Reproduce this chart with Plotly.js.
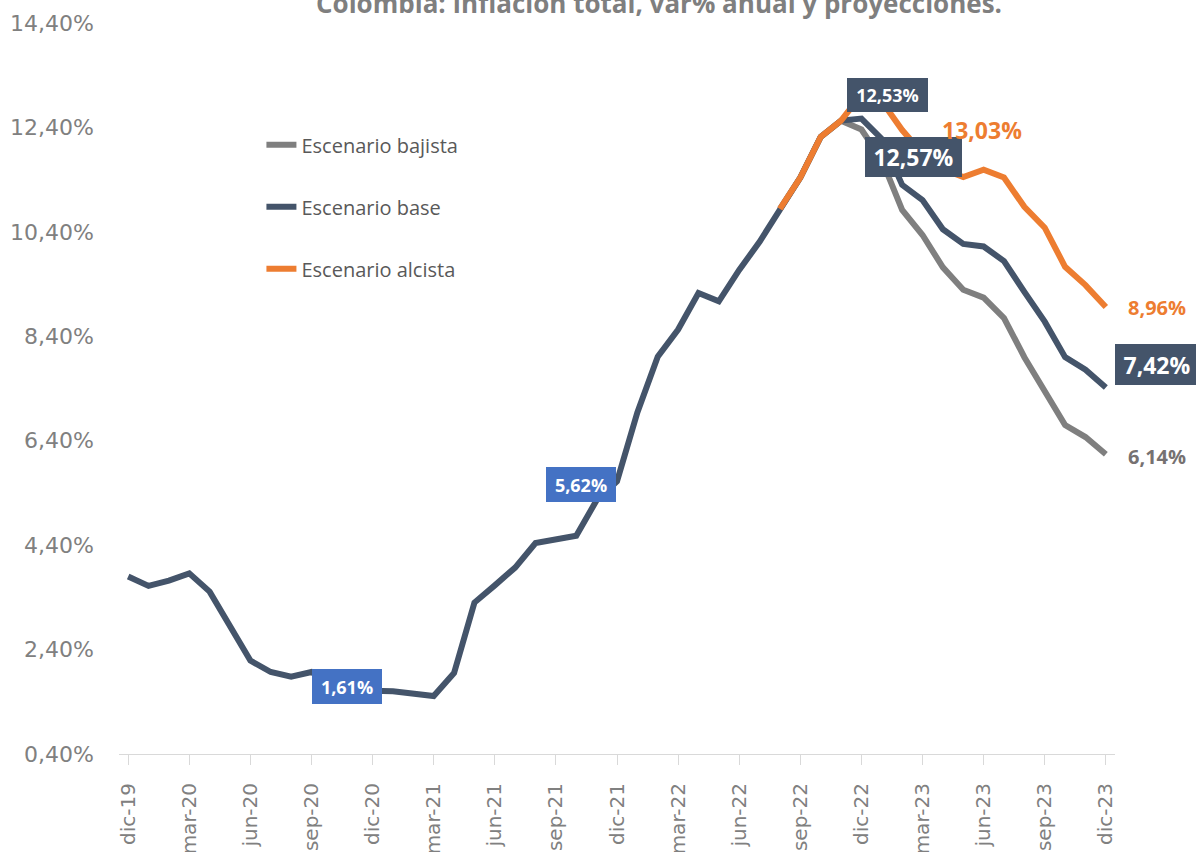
<!DOCTYPE html>
<html>
<head>
<meta charset="utf-8">
<script src="https://cdn.plot.ly/plotly-3.0.1.min.js"></script>
<style>
  html, body { margin: 0; padding: 0; background: #ffffff; }
  #chart { width: 1196px; height: 852px; }
</style>
</head>
<body>
<div id="chart"></div>
<script>
// Month categories, dic-19 .. dic-23
const months = [
  "dic-19",
  "ene-20","feb-20","mar-20","abr-20","may-20","jun-20","jul-20","ago-20","sep-20","oct-20","nov-20","dic-20",
  "ene-21","feb-21","mar-21","abr-21","may-21","jun-21","jul-21","ago-21","sep-21","oct-21","nov-21","dic-21",
  "ene-22","feb-22","mar-22","abr-22","may-22","jun-22","jul-22","ago-22","sep-22","oct-22","nov-22","dic-22",
  "ene-23","feb-23","mar-23","abr-23","may-23","jun-23","jul-23","ago-23","sep-23","oct-23","nov-23","dic-23"
];

// Observed annual inflation (%), dic-19 .. nov-22
const historico = [
  3.80,
  3.62, 3.72, 3.86, 3.51, 2.85, 2.19, 1.97, 1.88, 1.97, 1.75, 1.49, 1.61,
  1.60, 1.56, 1.51, 1.95, 3.30, 3.63, 3.97, 4.44, 4.51, 4.58, 5.26, 5.62,
  6.94, 8.01, 8.53, 9.23, 9.07, 9.67, 10.21, 10.84, 11.44, 12.22, 12.53
];

// Projections (%), dic-22 .. dic-23
const proyBajista = [12.36, 11.78, 10.82, 10.34, 9.72, 9.29, 9.14, 8.75, 8.00, 7.37, 6.70, 6.47, 6.14];
const proyBase    = [12.57, 12.18, 11.30, 11.01, 10.45, 10.17, 10.12, 9.84, 9.25, 8.68, 8.00, 7.76, 7.42];
const proyAlcista = [13.03, 12.90, 12.35, 11.90, 11.60, 11.45, 11.59, 11.44, 10.88, 10.48, 9.73, 9.38, 8.96];

// Index (in months) where the scenario lines start (ago-22)
const inicioEscenarios = 32;

const seriesNames = ["Escenario bajista", "Escenario base", "Escenario alcista"];
const tickLabels = months.filter((m, i) => i % 3 === 0);

// ---- build series ----
function scenario(proj) {
  const pre = historico.map((v, i) => (i >= inicioEscenarios ? v : null));
  return pre.concat(proj);
}
const yBajista = scenario(proyBajista);
const yBase = historico.concat(proyBase);
const yAlcista = scenario(proyAlcista);

const cGray = "#7f7f7f", cBase = "#44546a", cOrange = "#ed7d31", cBlue = "#4472c4";

const traces = [
  { name: seriesNames[0], x: months, y: yBajista, color: cGray },
  { name: seriesNames[1], x: months, y: yBase, color: cBase },
  { name: seriesNames[2], x: months, y: yAlcista, color: cOrange }
].map((t, i) => ({
  type: "scatter", mode: "lines", name: t.name, x: t.x, y: t.y,
  legendgroup: "g" + i, connectgaps: false,
  line: { color: t.color, width: 6, shape: "linear" },
  hoverinfo: "x+y+name"
}));

const fmt = v => v.toFixed(2).replace(".", ",") + "%";
const last = arr => arr[arr.length - 1];

const boldFont = (size, color) => ({ family: "Open Sans, DejaVu Sans, sans-serif", size: size, color: color, weight: 700 });

// right-side labels sit beyond the last category -> paper x
const xRight = 1.0422;

const annotations = [
  // boxed labels
  { x: 10.75, y: 1.69, text: fmt(historico[12]), font: boldFont(18, "#ffffff"), bgcolor: cBlue, width: 70, height: 35 },
  { x: 22.23, y: 5.56, text: fmt(historico[24]), font: boldFont(18, "#ffffff"), bgcolor: cBlue, width: 70, height: 35 },
  { x: 37.27, y: 13.03, text: fmt(historico[35]), font: boldFont(18, "#ffffff"), bgcolor: cBase, width: 81, height: 34 },
  { x: 38.55, y: 11.84, text: fmt(proyBase[0]), font: boldFont(23, "#ffffff"), bgcolor: cBase, width: 97, height: 40 },
  { xref: "paper", x: xRight, y: 7.86, text: fmt(last(proyBase)), font: boldFont(23, "#ffffff"), bgcolor: cBase, width: 84, height: 41 },
  // plain labels
  { x: 41.91, y: 12.35, text: fmt(proyAlcista[0]), font: boldFont(23, cOrange) },
  { xref: "paper", x: xRight, y: 8.96, text: fmt(last(proyAlcista)), font: boldFont(20, cOrange) },
  { xref: "paper", x: xRight, y: 6.09, text: fmt(last(proyBajista)), font: boldFont(20, "#767171") }
].map(a => Object.assign({
  xref: "x", yref: "y", showarrow: false, xanchor: "center", yanchor: "middle",
  borderpad: 0, borderwidth: 0, align: "center", valign: "middle"
}, a));

const layout = {
  width: 1196, height: 852,
  paper_bgcolor: "#ffffff", plot_bgcolor: "#ffffff",
  separators: ",.",
  margin: { l: 119, r: 81, t: 23, b: 98 },
  title: {
    text: "Colombia: Inflación total, var% anual y proyecciones.",
    font: { family: "Open Sans, DejaVu Sans, sans-serif", size: 26, color: "#7f7f7f", weight: 700 },
    x: 659 / 1196, xanchor: "center", xref: "container",
    y: 0.9953, yanchor: "middle", yref: "container"
  },
  showlegend: true,
  legend: {
    x: 0.143, y: 0.86, xanchor: "left", yanchor: "top",
    bgcolor: "rgba(0,0,0,0)", borderwidth: 0,
    font: { family: "Open Sans, sans-serif", size: 20, color: "#595959" },
    tracegroupgap: 33, traceorder: "grouped"
  },
  xaxis: {
    type: "category",
    range: [-0.45, 48.45],
    tickmode: "array", tickvals: tickLabels, ticktext: tickLabels,
    tickangle: -90,
    ticks: "outside", ticklen: 10, tickcolor: "#d9d9d9", tickwidth: 1,
    showline: true, linecolor: "#d9d9d9", linewidth: 1,
    showgrid: false, zeroline: false,
    tickfont: { family: "DejaVu Sans, sans-serif", size: 20, color: "#808080" },
    ticklabelstandoff: 10,
    fixedrange: true
  },
  yaxis: {
    range: [0.4, 14.4],
    tick0: 0.4, dtick: 2, tickmode: "linear",
    tickformat: ".2f", ticksuffix: "%",
    showgrid: false, zeroline: false, showline: false, ticks: "",
    tickfont: { family: "DejaVu Sans, sans-serif", size: 22, color: "#808080" },
    ticklabelstandoff: 24,
    fixedrange: true
  },
  annotations: annotations
};

Plotly.newPlot("chart", traces, layout, { displayModeBar: false, staticPlot: false });
</script>
</body>
</html>
